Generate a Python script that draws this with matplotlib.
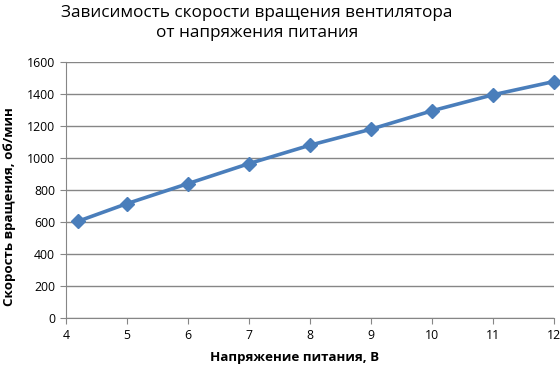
import matplotlib.pyplot as plt

# напряжение питания, В
voltage = [4.2, 5, 6, 7, 8, 9, 10, 11, 12]
# скорость вращения, об/мин
speed = [605, 715, 840, 965, 1080, 1180, 1295, 1395, 1478]

x_ticks = [4, 5, 6, 7, 8, 9, 10, 11, 12]
y_ticks = [0, 200, 400, 600, 800, 1000, 1200, 1400, 1600]

plt.rcParams['font.family'] = ['Open Sans', 'DejaVu Sans']

fig = plt.figure(figsize=(5.6, 3.69), dpi=100)
ax = fig.add_axes([66 / 560, 1 - 318 / 369, (554 - 66) / 560, (318 - 62) / 369])

ax.plot(voltage, speed, color='#4a7ebb', linewidth=2.6, marker='D',
        markersize=7, clip_on=False, zorder=3)

ax.set_xlim(4, 12)
ax.set_ylim(0, 1600)
ax.set_xticks(x_ticks)
ax.set_yticks(y_ticks)
ax.grid(axis='y', color='#868686', linewidth=1)
ax.set_axisbelow(True)

for s in ['top', 'right']:
    ax.spines[s].set_visible(False)
for s in ['left', 'bottom']:
    ax.spines[s].set_color('#868686')
ax.tick_params(direction='out', length=4, color='#868686', labelsize=8.8, pad=4)

fig.text(257 / 560, 1 - 23 / 369, 'Зависимость скорости вращения вентилятора\nот напряжения питания',
         ha='center', va='center', fontsize=12.3, linespacing=1.3)
fig.text(295 / 560, 1 - 358 / 369, 'Напряжение питания, В', ha='center', va='center',
         fontsize=9.6, fontweight='bold')
fig.text(10 / 560, 1 - 207 / 369, 'Скорость вращения, об/мин', ha='center', va='center',
         rotation=90, fontsize=9.6, fontweight='bold')

fig.savefig('out.png', dpi=100)
